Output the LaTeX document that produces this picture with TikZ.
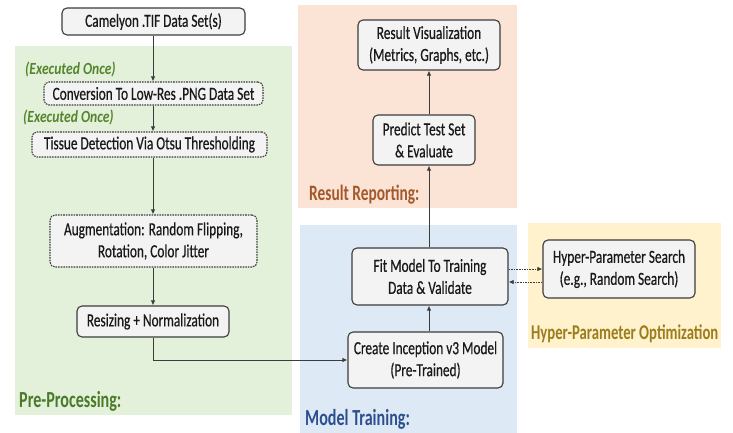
\documentclass[tikz,border=0pt]{standalone}
\usepackage{fontspec}
\setmainfont{Carlito}[FakeStretch=0.72]
\newfontfamily\boxfont{Carlito}[FakeStretch=0.72, FakeBold=0.5]
\newfontfamily\labfont{Carlito}[FakeStretch=0.80]
\newfontfamily\regfont{Carlito}[FakeStretch=0.70]
\usetikzlibrary{arrows.meta,calc}

\definecolor{greenbg}{HTML}{E3F1DA}
\definecolor{orangebg}{HTML}{FBE4D5}
\definecolor{bluebg}{HTML}{DDEAF6}
\definecolor{yellowbg}{HTML}{FFF2CD}
\definecolor{boxfill}{HTML}{F3F3F3}
\definecolor{boxline}{HTML}{3C3C3C}
\definecolor{greenlab}{HTML}{4B7A2A}
\definecolor{execlab}{HTML}{55862F}
\definecolor{orangelab}{HTML}{A4592B}
\definecolor{bluelab}{HTML}{2D4F8E}
\definecolor{yellowlab}{HTML}{9C7D1E}

\tikzset{
  stage/.style={draw=boxline, fill=boxfill, line width=1.1pt, rounded corners=5pt,
    align=center, inner sep=0pt, text=black!90,
    font=\boxfont\fontsize{18.5}{22}\selectfont},
  dashstage/.style={stage, dash pattern=on 1.6pt off 1pt},
  flow/.style={draw=boxline, line width=1pt, -{Latex[length=5pt,width=4.5pt]}},
  dotflow/.style={draw=boxline, line width=1pt, dash pattern=on 1.6pt off 1pt,
    -{Latex[length=5pt,width=4.5pt]}},
  regionlab/.style={anchor=base west, inner sep=0pt,
    font=\regfont\fontsize{23}{25}\selectfont\bfseries},
  execlabel/.style={anchor=base west, inner sep=0pt, text=execlab,
    font=\labfont\fontsize{17}{20}\selectfont\bfseries\itshape}
}

\begin{document}
\begin{tikzpicture}[x=1pt,y=-1pt]
\useasboundingbox (0,0) rectangle (733,433);
\fill[white] (0,0) rectangle (733,433);

% background regions
\fill[greenbg]  (15,46)   rectangle (292,415);
\fill[orangebg] (298,5)   rectangle (517,208);
\fill[bluebg]   (300,225) rectangle (517,433);
\fill[yellowbg] (528,223) rectangle (721,348);

% pre-processing column
\node[stage, minimum width=183pt, minimum height=27pt] (cam) at (153.5,21.5)
  {Camelyon .TIF Data Set(s)};
\node[dashstage, minimum width=219pt, minimum height=23pt] (conv) at (153.5,93.5)
  {Conversion To Low-Res .PNG Data Set};
\node[dashstage, minimum width=235pt, minimum height=25pt] (tissue) at (149.5,144.5)
  {Tissue Detection Via Otsu Thresholding};
\node[dashstage, minimum width=207pt, minimum height=52pt] (aug) at (153.5,241)
  {Augmentation: Random Flipping,\\Rotation, Color Jitter};
\node[stage, minimum width=152pt, minimum height=31pt] (resize) at (153,321.5)
  {Resizing + Normalization};

% training and reporting column
\node[stage, minimum width=155pt, minimum height=56pt] (create) at (425.5,360)
  {Create Inception v3 Model\\(Pre-Trained)};
\node[stage, minimum width=156pt, minimum height=57pt] (fit) at (430,276.5)
  {Fit Model To Training\\Data \& Validate};
\node[stage, minimum width=102pt, minimum height=50pt] (predict) at (424,140)
  {Predict Test Set\\\& Evaluate};
\node[stage, minimum width=142pt, minimum height=50pt] (resvis) at (429,45)
  {Result Visualization\\(Metrics, Graphs, etc.)};

% hyper-parameter search
\node[stage, minimum width=152pt, minimum height=58pt] (hps) at (619,269)
  {Hyper-Parameter Search\\(e.g., Random Search)};

% region labels
\node[execlabel] (exec1) at (25,75) {(Executed Once)};
\node[execlabel] (exec2) at (23,123) {(Executed Once)};
\node[regionlab, text=greenlab] (prelab) at (19,407) {Pre-Processing:};
\node[regionlab, text=orangelab, font=\regfont\fontsize{22}{25}\selectfont\bfseries]
  (reslab) at (309,200) {Result Reporting:};
\node[regionlab, text=bluelab] (modlab) at (305,425) {Model Training:};
\node[regionlab, text=yellowlab, font=\regfont\fontsize{21}{24}\selectfont\bfseries]
  (hpolab) at (531,339) {Hyper-Parameter Optimization};

% connectors
\coordinate (colA) at (153,0);
\draw[flow] (cam.south -| colA) -- (conv.north -| colA);
\draw[flow] (conv.south -| colA) -- (tissue.north -| colA);
\draw[flow] (tissue.south -| colA) -- (aug.north -| colA);
\draw[flow] (aug.south -| colA) -- (resize.north -| colA);
\draw[flow] (resize.south -| colA) |- (create.west);

\coordinate (colB) at (429,0);
\draw[flow] (create.north -| colB) -- (fit.south -| colB);
\draw[flow] (fit.north -| colB) -- (predict.south -| colB);
\draw[flow] (predict.north -| colB) -- (resvis.south -| colB);

\coordinate (upper) at (0,269);
\coordinate (lower) at (0,282);
\draw[dotflow] (fit.east |- upper) -- (hps.west |- upper);
\draw[dotflow] (hps.west |- lower) -- (fit.east |- lower);
\end{tikzpicture}
\end{document}
